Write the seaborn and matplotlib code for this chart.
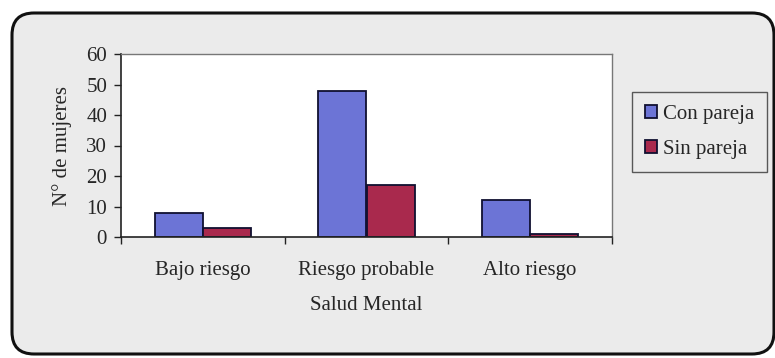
import matplotlib
matplotlib.use("Agg")
import matplotlib.pyplot as plt
import matplotlib.patches as mpatches
from matplotlib.transforms import IdentityTransform
import seaborn as sns
import pandas as pd

# Data
categories = ["Bajo riesgo", "Riesgo probable", "Alto riesgo"]
con_pareja = [8, 48, 12]
sin_pareja = [3, 17, 1]
series_names = ["Con pareja", "Sin pareja"]
y_ticks = [0, 10, 20, 30, 40, 50, 60]

df = pd.DataFrame({
    "Salud Mental": categories * 2,
    "Grupo": [series_names[0]] * 3 + [series_names[1]] * 3,
    "Mujeres": con_pareja + sin_pareja,
})

sns.set_style("white")
plt.rcParams["font.family"] = ["Liberation Serif", "DejaVu Serif"]

W, H = 775, 358
FS = 15
BG = "#ebebeb"
fig = plt.figure(figsize=(W / 100, H / 100), dpi=100)
fig.patch.set_facecolor("white")

# Rounded chart-area frame
frame = mpatches.FancyBboxPatch(
    (12, 4), 762, 341,
    boxstyle="round,pad=0,rounding_size=22",
    transform=IdentityTransform(),
    facecolor=BG, edgecolor="#111111", linewidth=2.2, zorder=-5,
)
fig.patches.append(frame)

ax = fig.add_axes([121 / W, 1 - 237 / H, (612 - 121) / W, (237 - 54) / H])
ax.set_zorder(2)
ax.set_facecolor("white")

palette = {"Con pareja": "#6c74d6", "Sin pareja": "#a9294d"}
sns.barplot(
    data=df, x="Salud Mental", y="Mujeres", hue="Grupo",
    palette=palette, width=0.59, edgecolor="#101030", linewidth=1.3,
    saturation=1, ax=ax, legend=True,
)

ax.set_xlim(-0.5, 2.5)
ax.set_ylim(0, 60)
ax.set_yticks(y_ticks)
ax.set_yticklabels([str(t) for t in y_ticks], fontsize=FS)

# Category labels centred, ticks on the boundaries between categories
ax.set_xticks(range(len(categories)))
ax.set_xticklabels(categories, fontsize=FS)
ax.tick_params(axis="x", length=0, pad=17)
ax.set_xticks([-0.5, 0.5, 1.5, 2.5], minor=True)
ax.tick_params(axis="x", which="minor", length=5, width=1, color="#222222", direction="out", bottom=True)
ax.tick_params(axis="y", length=5, width=1, color="#222222", direction="out", left=True, pad=5)

for side in ["left", "bottom"]:
    ax.spines[side].set_color("#222222")
    ax.spines[side].set_linewidth(1.2)
for side in ["top", "right"]:
    ax.spines[side].set_visible(True)
    ax.spines[side].set_color("#777777")
    ax.spines[side].set_linewidth(1.0)

ax.set_xlabel("Salud Mental", fontsize=FS, labelpad=12)
ax.set_ylabel("N° de mujeres", fontsize=FS, labelpad=10)

handles, labels = ax.get_legend_handles_labels()
ax.legend_.remove()
leg = fig.legend(
    handles, labels, loc="upper left",
    bbox_to_anchor=(632 / W, 1 - 92 / H), bbox_transform=fig.transFigure,
    fontsize=FS, frameon=True, fancybox=False, edgecolor="#333333",
    handlelength=0.6, handleheight=0.6, handletextpad=0.3,
    labelspacing=0.8, borderpad=0.6, borderaxespad=0,
)
leg.get_frame().set_facecolor(BG)
leg.get_frame().set_linewidth(1.0)

fig.savefig("out.png", dpi=100)
